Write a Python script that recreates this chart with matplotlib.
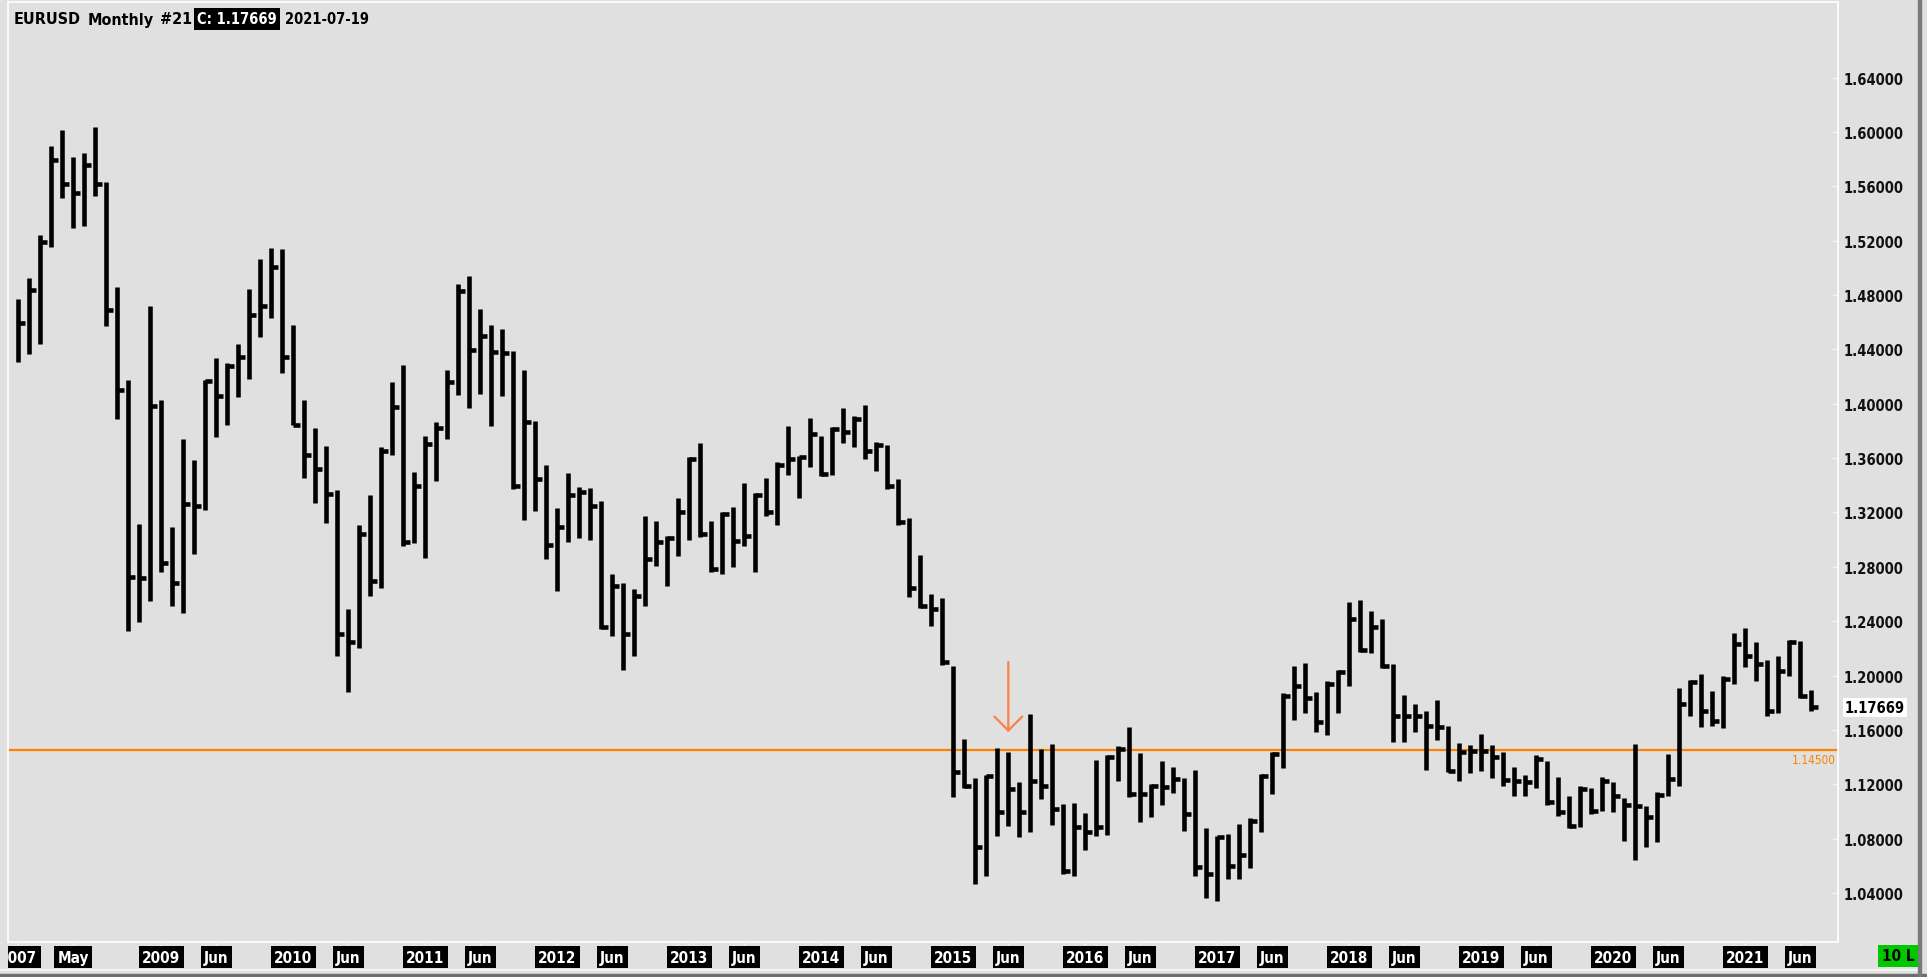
import numpy as np
import matplotlib
matplotlib.use("Agg")
import matplotlib.pyplot as plt
import matplotlib.transforms as mtransforms
from matplotlib.patches import Rectangle

# EURUSD monthly bars, Dec 2007 .. Jul 2021 (high / low / close)
highs = [
    1.4771, 1.4923, 1.5239, 1.5901, 1.6012, 1.5815, 1.5844, 1.6038, 1.5631, 1.4863,
    1.4172, 1.3115, 1.4718, 1.4027, 1.3094, 1.3740, 1.3583, 1.4172, 1.4337, 1.4303,
    1.4442, 1.4842, 1.5065, 1.5144, 1.5139, 1.4579, 1.4027, 1.3819, 1.3688, 1.3366,
    1.2490, 1.3108, 1.3331, 1.3680, 1.4158, 1.4286, 1.3496, 1.3761, 1.3864, 1.4249,
    1.4882, 1.4938, 1.4698, 1.4580, 1.4550, 1.4386, 1.4249, 1.3874, 1.3550, 1.3231,
    1.3491, 1.3385, 1.3378, 1.3282, 1.2747, 1.2679, 1.2637, 1.3177, 1.3135, 1.3025,
    1.3304, 1.3606, 1.3709, 1.3135, 1.3201, 1.3238, 1.3415, 1.3341, 1.3451, 1.3569,
    1.3834, 1.3618, 1.3893, 1.3761, 1.3827, 1.3966, 1.3908, 1.3991, 1.3716, 1.3699,
    1.3447, 1.3157, 1.2887, 1.2600, 1.2568, 1.2068, 1.1533, 1.1246, 1.1268, 1.1467,
    1.1435, 1.1214, 1.1717, 1.1459, 1.1496, 1.1055, 1.1062, 1.0988, 1.1379, 1.1415,
    1.1479, 1.1619, 1.1428, 1.1202, 1.1369, 1.1324, 1.1243, 1.1305, 1.0875, 1.0822,
    1.0834, 1.0907, 1.0949, 1.1275, 1.1435, 1.1871, 1.2068, 1.2090, 1.1876, 1.1957,
    1.2043, 1.2539, 1.2556, 1.2472, 1.2416, 1.2085, 1.1857, 1.1791, 1.1737, 1.1820,
    1.1631, 1.1503, 1.1489, 1.1570, 1.1489, 1.1440, 1.1325, 1.1268, 1.1415, 1.1369,
    1.1251, 1.1111, 1.1185, 1.1170, 1.1251, 1.1214, 1.1096, 1.1496, 1.1037, 1.1145,
    1.1423, 1.1906, 1.1967, 1.2009, 1.1884, 1.1999, 1.2313, 1.2347, 1.2244, 1.2114,
    1.2146, 1.2264, 1.2252, 1.1894,
]
lows = [
    1.4311, 1.4369, 1.4442, 1.5152, 1.5512, 1.5292, 1.5307, 1.5528, 1.4576, 1.3885,
    1.2331, 1.2392, 1.2549, 1.2765, 1.2515, 1.2463, 1.2891, 1.3215, 1.3754, 1.3843,
    1.4048, 1.4180, 1.4490, 1.4629, 1.4224, 1.3843, 1.3451, 1.3272, 1.3120, 1.2146,
    1.1882, 1.2200, 1.2588, 1.2647, 1.3626, 1.2956, 1.2976, 1.2863, 1.3434, 1.3741,
    1.4067, 1.3969, 1.4072, 1.3839, 1.4060, 1.3373, 1.3148, 1.3214, 1.2858, 1.2625,
    1.2980, 1.3010, 1.2998, 1.2343, 1.2294, 1.2043, 1.2142, 1.2510, 1.2809, 1.2662,
    1.2882, 1.3000, 1.3022, 1.2760, 1.2747, 1.2801, 1.2956, 1.2760, 1.3177, 1.3110,
    1.3478, 1.3304, 1.3532, 1.3466, 1.3478, 1.3709, 1.3680, 1.3594, 1.3508, 1.3373,
    1.3108, 1.2576, 1.2495, 1.2362, 1.2078, 1.1104, 1.1170, 1.0466, 1.0527, 1.0822,
    1.0895, 1.0814, 1.0851, 1.1091, 1.0903, 1.0539, 1.0527, 1.0716, 1.0822, 1.0829,
    1.1226, 1.1104, 1.0920, 1.0956, 1.1050, 1.1133, 1.0858, 1.0522, 1.0360, 1.0343,
    1.0503, 1.0503, 1.0581, 1.0846, 1.1128, 1.1317, 1.1673, 1.1722, 1.1582, 1.1562,
    1.1722, 1.1921, 1.2171, 1.2163, 1.2053, 1.1513, 1.1513, 1.1582, 1.1307, 1.1528,
    1.1288, 1.1221, 1.1280, 1.1295, 1.1244, 1.1185, 1.1116, 1.1111, 1.1170, 1.1047,
    1.0969, 1.0876, 1.0883, 1.0981, 1.1006, 1.0998, 1.0785, 1.0645, 1.0736, 1.0772,
    1.1111, 1.1190, 1.1700, 1.1619, 1.1626, 1.1611, 1.1938, 1.2060, 1.1957, 1.1705,
    1.1722, 1.1994, 1.1832, 1.1742,
]
closes = [
    1.4592, 1.4837, 1.5192, 1.5791, 1.5618, 1.5554, 1.5757, 1.5618, 1.4692, 1.4101,
    1.2726, 1.2715, 1.3982, 1.2825, 1.2681, 1.3264, 1.3246, 1.4166, 1.4056, 1.4277,
    1.4345, 1.4653, 1.4718, 1.5008, 1.4345, 1.3843, 1.3622, 1.3517, 1.3338, 1.2306,
    1.2250, 1.3042, 1.2698, 1.3655, 1.3974, 1.2980, 1.3398, 1.3704, 1.3819, 1.4163,
    1.4833, 1.4396, 1.4501, 1.4379, 1.4374, 1.3393, 1.3864, 1.3447, 1.2961, 1.3091,
    1.3329, 1.3353, 1.3250, 1.2355, 1.2662, 1.2306, 1.2588, 1.2858, 1.2980, 1.3010,
    1.3206, 1.3594, 1.3042, 1.2784, 1.3189, 1.2993, 1.3029, 1.3329, 1.3201, 1.3550,
    1.3594, 1.3606, 1.3778, 1.3483, 1.3815, 1.3790, 1.3888, 1.3655, 1.3697, 1.3393,
    1.3128, 1.2642, 1.2514, 1.2490, 1.2097, 1.1293, 1.1185, 1.0736, 1.1263, 1.0993,
    1.1165, 1.0993, 1.1226, 1.1190, 1.1018, 1.0564, 1.0883, 1.0846, 1.0883, 1.1403,
    1.1459, 1.1128, 1.1128, 1.1190, 1.1177, 1.1239, 1.0981, 1.0589, 1.0539, 1.0814,
    1.0601, 1.0679, 1.0932, 1.1263, 1.1423, 1.1852, 1.1925, 1.1835, 1.1656, 1.1938,
    1.2028, 1.2416, 1.2188, 1.2355, 1.2068, 1.1705, 1.1705, 1.1705, 1.1631, 1.1619,
    1.1300, 1.1435, 1.1447, 1.1447, 1.1398, 1.1231, 1.1226, 1.1214, 1.1386, 1.1067,
    1.0993, 1.0895, 1.1165, 1.1006, 1.1226, 1.1116, 1.1047, 1.1042, 1.0956, 1.1121,
    1.1238, 1.1791, 1.1950, 1.1742, 1.1668, 1.1975, 1.2232, 1.2146, 1.2085, 1.1742,
    1.2036, 1.2244, 1.1852, 1.17669,
]

# time axis labels (bar index -> text)
time_idx = [0, 5, 13, 18, 25, 30, 37, 42, 49, 54, 61, 66, 73, 78, 85, 90,
            97, 102, 109, 114, 121, 126, 133, 138, 145, 150, 157, 162]
time_txt = ["2007", "May", "2009", "Jun", "2010", "Jun", "2011", "Jun", "2012", "Jun",
            "2013", "Jun", "2014", "Jun", "2015", "Jun", "2016", "Jun", "2017", "Jun",
            "2018", "Jun", "2019", "Jun", "2020", "Jun", "2021", "Jun"]
price_ticks = np.arange(1.04, 1.6401, 0.04)

level = 1.145
arrow_bar = 90
arrow_tip, arrow_tail = 1.1584, 1.2100

BG = "#e0e0e0"
ORANGE = "#ff8000"
W, H = 1927, 978
FONT = dict(family="DejaVu Sans", fontstretch="condensed")


def fx(px):
    return px / W


def fy(py):
    return 1 - py / H


fig = plt.figure(figsize=(W / 100, H / 100), dpi=100, facecolor=BG)

# plot area in pixels
PL, PR, PT, PB = 8, 1838, 3, 943
ax = fig.add_axes([fx(PL), fy(PB), (PR - PL) / W, (PB - PT) / H])
ax.set_facecolor(BG)


def price_at(py):
    return 1.64 - (py - 78.7) / 54.35 * 0.04


ax.set_ylim(price_at(PB), price_at(PT))
ax.set_xlim((PL - 18.3) / 11, (PR - 18.3) / 11)

x = np.arange(len(highs))
ax.vlines(x, lows, highs, color="black", linewidth=3.3, capstyle="butt", zorder=3)
ax.hlines(closes, x, x + 0.62, color="black", linewidth=3.3, capstyle="butt", zorder=3)

ax.axhline(level, color=ORANGE, linewidth=1.6, zorder=2)
ax.annotate(f"{level:.5f}", xy=(1, level), xycoords=ax.get_yaxis_transform(),
            xytext=(-1.5, -2), textcoords="offset points", ha="right", va="top",
            color=ORANGE, fontsize=8.5, **FONT)

ax.annotate("", xy=(arrow_bar, arrow_tip), xytext=(arrow_bar, arrow_tail),
            arrowprops=dict(arrowstyle="->,head_length=1.0,head_width=1.0",
                            mutation_scale=10, color="#ff7f45", lw=1.6,
                            shrinkA=0, shrinkB=0), zorder=4)

# price axis
ax.yaxis.tick_right()
ax.set_yticks(price_ticks)
ax.set_yticklabels([f"{p:.5f}" for p in price_ticks])
ax.tick_params(axis="y", direction="in", length=4, color="#f4f4f4", pad=4,
               labelsize=10.5, labelcolor="#111111")
for lbl in ax.get_yticklabels():
    lbl.set_fontweight("bold")
    lbl.set_fontstretch("condensed")
ax.set_xticks([])
for sp in ax.spines.values():
    sp.set_color("white")
    sp.set_linewidth(1.2)

# last price box on the price axis
tr = mtransforms.blended_transform_factory(fig.transFigure, ax.transData)
fig.text(fx(1845), closes[-1], f"{closes[-1]:.5f}", transform=tr, va="center", ha="left",
         fontsize=10.5, fontweight="bold", color="black",
         bbox=dict(boxstyle="square,pad=0.15", fc="white", ec="none"), **FONT)

# time axis
tax = fig.add_axes([fx(PL), fy(971), (PR - PL) / W, 28 / H])
tax.set_xlim(ax.get_xlim())
tax.set_ylim(0, 1)
tax.axis("off")
tax.vlines(time_idx, 0.88, 1.0, color="#f4f4f4", linewidth=1)
for i, t in zip(time_idx, time_txt):
    tax.text(i, 0.46, t, ha="center", va="center", color="white", fontsize=11,
             fontweight="bold", clip_on=True,
             bbox=dict(boxstyle="square,pad=0.22", fc="black", ec="none"), **FONT)

# frame lines of the window
fig.add_artist(Rectangle((0, fy(971)), fx(1918), 1 / H, transform=fig.transFigure,
                         color="#f4f4f4", zorder=0))
fig.add_artist(Rectangle((0, 0), 1, 3 / H, transform=fig.transFigure,
                         color="#6e6e6e"))
fig.add_artist(Rectangle((fx(1918), 0), 3 / W, 1, transform=fig.transFigure,
                         color="#7a7a7a"))

# header, laid out left to right
renderer = fig.canvas.get_renderer()
hy = fy(20)
head = [("EURUSD", 14, 11.5, False), ("Monthly", 88, 11.5, False), ("#21", 160, 11.5, False),
        (f"C: {closes[-1]:.5f}", 196, 10.5, True), ("2021-07-19", 276, 10.5, False)]
right = 0
for txt, x0, size, boxed in head:
    x0 = max(x0, right + (5 if boxed else 5))
    kw = dict(color="white", bbox=dict(boxstyle="square,pad=0.22", fc="black", ec="none")) \
        if boxed else dict(color="black")
    t = fig.text(fx(x0), hy, txt, va="center", fontsize=size, fontweight="bold", **kw, **FONT)
    bb = t.get_window_extent(renderer)
    right = bb.x1 + (3 if boxed else 0)

# bars-back counter box
fig.text(fx(1898), fy(957), "10 L", ha="center", va="center", fontsize=11,
         fontweight="bold", color="black",
         bbox=dict(boxstyle="square,pad=0.25", fc="#00c800", ec="none"), **FONT)

fig.savefig("out.png", dpi=100, facecolor=BG)
